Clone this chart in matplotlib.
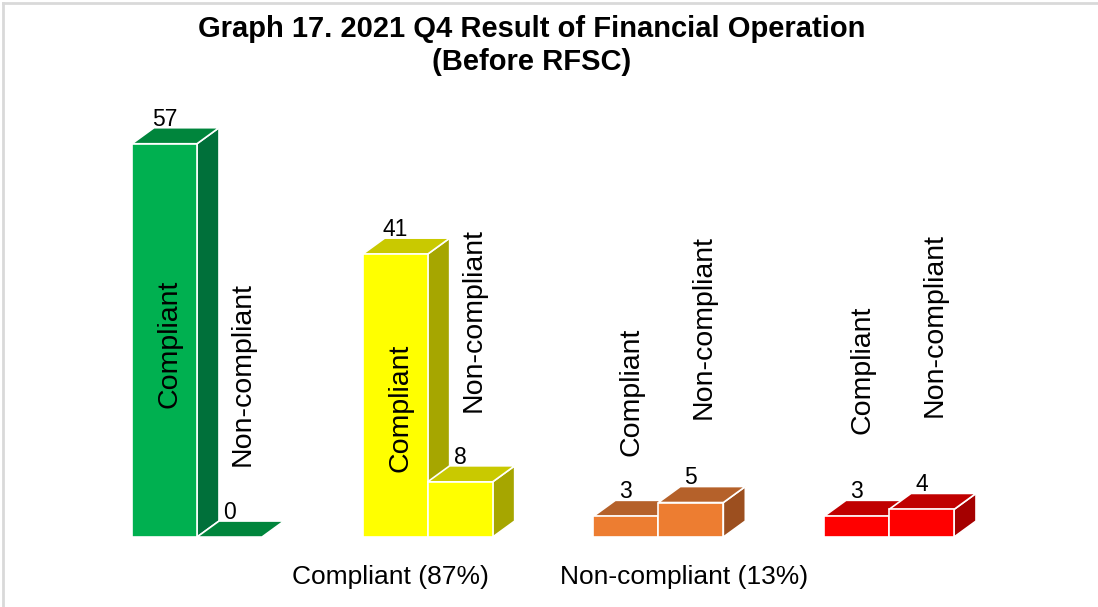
import numpy as np
import matplotlib.pyplot as plt
from matplotlib.patches import Polygon

# data
groups = ['G1', 'G2', 'G3', 'G4']
series = ['Compliant', 'Non-compliant']
values = [[57, 0], [41, 8], [3, 5], [3, 4]]
categories = ['Compliant (87%)', 'Non-compliant (13%)']
category_x = [0.84, 2.11]
# where the series-name labels sit (value units, centre of the text)
name_label_y = [[28.0, 23.7], [18.7, 31.5], [21.1, 30.5], [24.2, 30.7]]

front_colors = ['#00B050', '#FFFF00', '#ED7D31', '#FF0000']
top_colors = ['#00853C', '#C9C900', '#B5612A', '#C00000']
side_colors = ['#00703A', '#A6A600', '#9C4F1F', '#A50000']

W, H = 1098, 607
fig = plt.figure(figsize=(W / 100, H / 100), dpi=100)
ax = fig.add_axes([0, 0, 1, 1])
ax.set_xlim(-0.854, 3.906)
ax.set_ylim(-10.14, 77.83)
ax.axis('off')

# convert pixel depth of 3D effect into data units
px_x = W / (3.906 + 0.854)
px_y = H / (77.83 + 10.14)
dx = 22 / px_x
dy = 16 / px_y
bar_w = 65 / px_x

font = 'Liberation Sans'

for g, vals in enumerate(values):
    for s, h in enumerate(vals):
        x0 = g + (s - 1) * bar_w
        x1 = x0 + bar_w
        kw = dict(edgecolor='white', linewidth=1.2, joinstyle='miter')
        if h > 0:
            ax.add_patch(Polygon([(x1, 0), (x1 + dx, dy), (x1 + dx, h + dy), (x1, h)],
                                 facecolor=side_colors[g], **kw))
        ax.add_patch(Polygon([(x0, h), (x1, h), (x1 + dx, h + dy), (x0 + dx, h + dy)],
                             facecolor=top_colors[g], **kw))
        if h > 0:
            ax.add_patch(Polygon([(x0, 0), (x1, 0), (x1, h), (x0, h)],
                                 facecolor=front_colors[g], **kw))
        # value label
        ax.text((x0 + x1) / 2, h + dy + 0.3, str(h), ha='center', va='baseline',
                fontsize=16.5, family=font, color='black')
        # series name label
        off = dx * 0.25 if s == 0 else dx * 0.6
        ax.text((x0 + x1) / 2 + off, name_label_y[g][s], series[s], rotation=90,
                ha='center', va='center', fontsize=20.5, family=font, color='black')

for cx, cat in zip(category_x, categories):
    ax.text(cx, -5.8, cat, ha='center', va='center', fontsize=19, family=font)

fig.text(0.484, 0.953, 'Graph 17. 2021 Q4 Result of Financial Operation',
         ha='center', va='center', fontsize=21, fontweight='bold', family=font)
fig.text(0.484, 0.898, '(Before RFSC)', ha='center', va='center',
         fontsize=21, fontweight='bold', family=font)

# light frame on top and left edges
fig.add_artist(plt.Line2D([0.003, 1], [0.995, 0.995], color='#D9D9D9', linewidth=2))
fig.add_artist(plt.Line2D([0.003, 0.003], [0, 0.995], color='#D9D9D9', linewidth=2))

fig.savefig('out.png', dpi=100)
